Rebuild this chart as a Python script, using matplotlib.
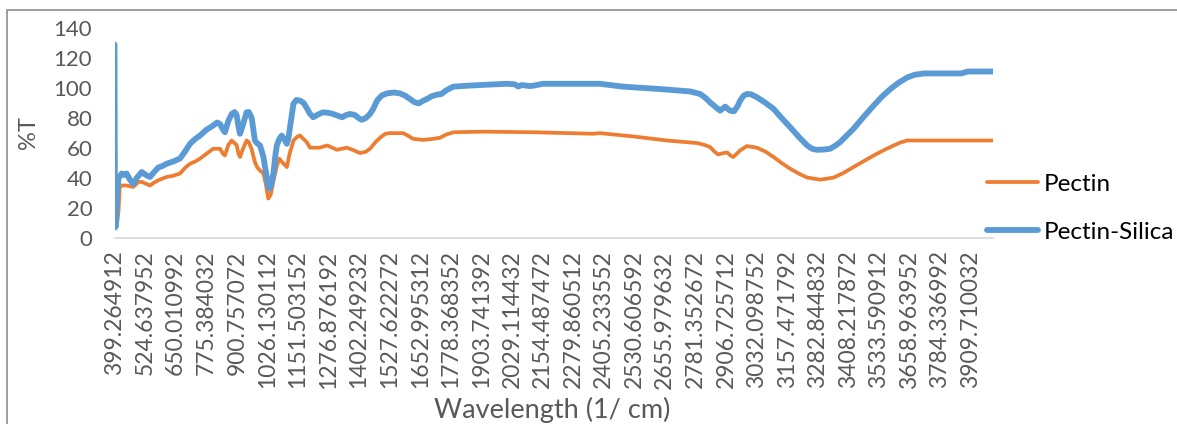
import matplotlib
matplotlib.use("Agg")
import matplotlib.pyplot as plt
from matplotlib.patches import Rectangle

# wavenumber (1/cm) and %T
silica_wn = [399.3, 401.2, 405, 410, 416, 429, 440, 449, 462, 476, 490, 511, 528, 545, 562, 579,
             596, 613, 640, 668, 690, 709, 730, 750, 775, 804, 820, 832, 845, 852, 866, 880,
             892, 900, 908, 914, 925, 941, 950, 962, 975, 985, 996, 1003, 1010, 1020, 1030,
             1037, 1044, 1051, 1058, 1065, 1075, 1085, 1095, 1106, 1112, 1119, 1126, 1133,
             1145, 1160, 1175, 1190, 1200, 1214, 1230, 1254, 1275, 1295, 1315, 1333, 1350,
             1365, 1385, 1400, 1413, 1430, 1447, 1460, 1476, 1495, 1516, 1545, 1570, 1590,
             1611, 1630, 1647, 1665, 1681, 1700, 1722, 1740, 1760, 1789, 1844, 1926, 2008,
             2040, 2055, 2070, 2100, 2116, 2157, 2390, 2485, 2637, 2760, 2801, 2822, 2842,
             2863, 2883, 2895, 2904, 2915, 2924, 2940, 2955, 2965, 2980, 2993, 3010, 3034,
             3070, 3102, 3135, 3170, 3205, 3240, 3260, 3280, 3310, 3334, 3355, 3375, 3400,
             3430, 3470, 3512, 3545, 3581, 3615, 3650, 3680, 3718, 3800, 3872, 3899, 4002]
silica_t = [129, 7, 8, 30, 40, 43, 42, 43, 39, 36, 40, 44, 42, 40.7, 44, 47,
            48, 49.5, 51, 53, 58, 62.8, 66, 68.3, 72, 75, 77, 76, 72, 70.5, 78, 82.7,
            84, 82, 74, 69.5, 75, 83.8, 84, 80, 65, 63, 61.7, 58, 54, 44, 34,
            33, 37, 43, 54, 61.7, 66, 68.3, 66, 62.8, 66, 73.9, 82, 89.4,
            92, 91.6, 90, 86, 83, 80.5, 82, 83.8, 83.5, 82.7, 81.5, 80.5, 82,
            82.7, 82, 80, 78.8, 80, 82.7, 86, 91.6, 95, 96.4, 97, 96.4, 95,
            92.7, 90.5, 89.8, 91.5, 92.7, 94.5, 95.6, 96, 98.5, 100.9, 101.5, 102.2, 102.8,
            102.5, 101, 102, 101.3, 101.5, 102.8, 102.8, 100.9, 99.3, 97.7, 96, 93.5, 90.4,
            87.5, 84.9, 86.5, 87.6, 86, 84.9, 84.5, 88, 91.6, 95, 96, 95.8, 93.8,
            90, 86.1, 80, 73.9, 67.5, 61.7, 59.5, 58.8, 59, 59.5, 61.5, 63.9, 68,
            72.8, 80.5, 88.2, 94, 99.3, 103.5, 107, 108.8, 109.7, 109.7, 109.7, 111, 111]

pectin_wn = [399.3, 405, 410, 416, 421, 429, 449, 476, 498, 511, 545, 562, 579, 613, 640, 668,
             690, 709, 730, 750, 775, 804, 832, 845, 852, 866, 880, 893, 900, 908, 914, 925,
             941, 950, 962, 975, 985, 996, 1010, 1020, 1026, 1030, 1040, 1051, 1058, 1065,
             1075, 1090, 1106, 1112, 1119, 1130, 1133, 1150, 1160, 1187, 1201, 1240, 1272,
             1311, 1352, 1380, 1406, 1430, 1447, 1470, 1488, 1510, 1529, 1583, 1605, 1624,
             1665, 1700, 1734, 1760, 1790, 1913, 2116, 2362, 2390, 2527, 2664, 2788, 2820,
             2842, 2860, 2875, 2893, 2912, 2925, 2937, 2950, 2965, 2993, 3034, 3070, 3102,
             3135, 3170, 3205, 3240, 3294, 3349, 3390, 3430, 3480, 3526, 3560, 3595, 3620,
             3650, 4002]
pectin_t = [7, 7.5, 10, 18.6, 35, 35, 35, 34, 37.4, 37.4, 35, 37, 38.5, 40.7, 41.5, 43,
            47, 49.5, 51, 52.9, 56, 59.5, 59.5, 56, 55, 62, 65, 63, 62, 56, 54, 59,
            65, 64, 59, 50.6, 47, 45, 43, 36, 29.6, 26.3, 29, 38, 43, 48,
            52.9, 50, 47.3, 52, 57.3, 63, 65, 67.7, 68.3, 64, 60.2, 60.2, 61.7,
            58.8, 60.2, 58.5, 56.6, 57.5, 59.5, 64, 66.8, 69.5, 69.9, 69.9, 68, 66.1,
            65.4, 66, 66.8, 69, 70.5, 70.9, 70.5, 69.5, 69.9, 67.7, 65, 63.3, 62,
            60.6, 57.5, 55.7, 56.5, 57, 55, 54, 56, 58.4, 61.3, 60.2, 57.5, 54,
            50, 46.2, 43, 40.3, 38.9, 40.3, 43.5, 47.3, 52, 56.2, 59, 61.7, 63.5,
            65, 65]

tick_labels = ["399.264912", "524.637952", "650.010992", "775.384032", "900.757072",
               "1026.130112", "1151.503152", "1276.876192", "1402.249232", "1527.622272",
               "1652.995312", "1778.368352", "1903.741392", "2029.114432", "2154.487472",
               "2279.860512", "2405.233552", "2530.606592", "2655.979632", "2781.352672",
               "2906.725712", "3032.098752", "3157.471792", "3282.844832", "3408.217872",
               "3533.590912", "3658.963952", "3784.336992", "3909.710032"]
tick_pos = [float(t) for t in tick_labels]

plt.rcParams['font.family'] = ['Lato', 'DejaVu Sans']
grey = '#595959'

fig = plt.figure(figsize=(11.77, 4.24), dpi=100)
ax = fig.add_axes([114.5 / 1177, 186 / 424, (993 - 114.5) / 1177, 210 / 424])

ax.plot(pectin_wn, pectin_t, color='#ED7D31', lw=2.7, solid_joinstyle='round',
        solid_capstyle='round', label='Pectin')
ax.plot(silica_wn, silica_t, color='#5B9BD5', lw=4.2, solid_joinstyle='round',
        solid_capstyle='round', label='Pectin-Silica')

ax.set_xlim(399.3, 4002)
ax.set_ylim(0, 140)
ax.set_yticks(range(0, 141, 20))
ax.set_xticks(tick_pos, labels=tick_labels, rotation=90)
ax.tick_params(axis='both', length=0, colors=grey)
ax.tick_params(axis='x', pad=9, labelsize=16.5)
ax.tick_params(axis='y', pad=16, labelsize=16)
for s in ['top', 'right', 'left']:
    ax.spines[s].set_visible(False)
ax.spines['bottom'].set_color('#D9D9D9')
ax.spines['bottom'].set_linewidth(1.2)

fig.text(552 / 1177, 1 - 410 / 424, 'Wavelength (1/ cm)', ha='center', va='center',
         fontsize=19.5, color=grey)
fig.text(29 / 1177, 1 - 133 / 424, '%T', ha='center', va='center', rotation=90,
         fontsize=17, color=grey)

handles, labels = ax.get_legend_handles_labels()
fig.legend(handles, labels, loc='upper left', bbox_to_anchor=(965 / 1177, 1 - 152 / 424),
           frameon=False, fontsize=17.5, handlelength=2.1, handletextpad=0.25,
           labelspacing=1.1, labelcolor='black')

fig.add_artist(Rectangle((7 / 1177, -0.1), 1.2, (414 / 424) + 0.1, transform=fig.transFigure,
                         fill=False, edgecolor='#8f8f8f', lw=1.2, clip_on=False))

fig.savefig('out.png', dpi=100)
